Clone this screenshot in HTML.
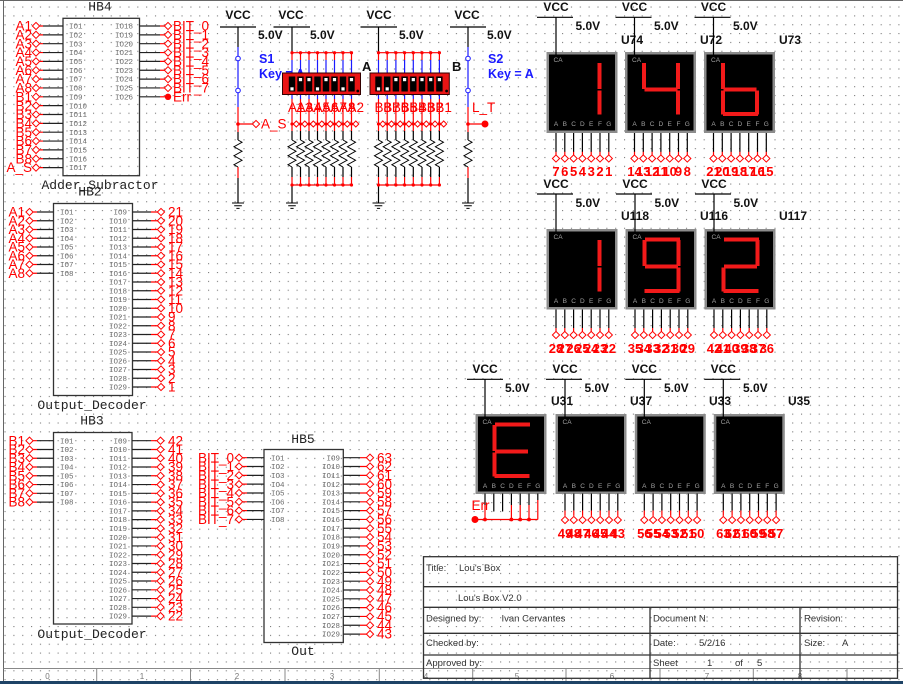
<!DOCTYPE html>
<html><head><meta charset="utf-8"><title>Lou's Box</title>
<style>
html,body{margin:0;padding:0;background:#fff;width:903px;height:684px;overflow:hidden}
svg{display:block}
text{font-family:"Liberation Sans",Arial,sans-serif}
.rl{font-size:13.5px;fill:#f00}
.io{font-family:"Liberation Mono",monospace;font-size:7.5px;fill:#6a6a6a}
.mn{font-family:"Liberation Mono",monospace;font-size:13px;fill:#222}
.bk{font-size:12px;font-weight:bold;fill:#111}
.bl{font-size:12.5px;font-weight:bold;fill:#1a1aff}
.tb{font-size:9.5px;fill:#333}
.sm{font-size:6.5px;fill:#a0a0a0}
.nm{font-size:13px;font-weight:bold;fill:#f00}
.bz{font-size:8px;fill:#777}
</style></head><body>
<svg width="903" height="684" viewBox="0 0 903 684" xmlns="http://www.w3.org/2000/svg">
<defs>
<pattern id="grid" patternUnits="userSpaceOnUse" x="4.5" y="6.5" width="8.85" height="8.85"><rect width="1.1" height="1.1" fill="#7a7a7a"/></pattern>
<path id="dm" d="M-3.6 0L0-3.6L3.6 0L0 3.6Z" fill="#fff" stroke="#f00" stroke-width="1"/>
<path id="dms" d="M-3 0L0-3L3 0L0 3Z" fill="#fff" stroke="#f00" stroke-width="1"/>
<path id="gnd" d="M-6 0H6M-3.8 2.7H3.8M-1.6 5.4H1.6" stroke="#000" stroke-width="1" fill="none"/>
<path id="res" d="M0 0l4 2.25l-8 4.5l8 4.5l-8 4.5l8 4.5l-8 4.5l4 2.25" fill="none" stroke="#000" stroke-width="1"/>
</defs>
<rect width="903" height="684" fill="#fff"/>
<rect width="903" height="681" fill="url(#grid)"/>

<!-- borders -->
<path d="M3.5 0V681M0 0.5H903" stroke="#666" stroke-width="1" fill="none"/>
<path d="M3.5 668.5H903M96.7 668.5V681M190.5 668.5V681M285 668.5V681M379.3 668.5V681M472.7 668.5V681M566 668.5V681M660 668.5V681M753.3 668.5V681M847 668.5V681" stroke="#888" stroke-width="1" fill="none"/>
<text class="bz" text-anchor="middle"><tspan x="47.5" y="679">0</tspan><tspan x="142" y="679">1</tspan><tspan x="237" y="679">2</tspan><tspan x="332" y="679">3</tspan><tspan x="426" y="679">4</tspan><tspan x="517" y="679">5</tspan><tspan x="612" y="679">6</tspan><tspan x="707" y="679">7</tspan><tspan x="800" y="679">8</tspan></text>
<rect x="0" y="681" width="903" height="3" fill="#1e4366"/>

<!-- ============ HB4 ============ -->
<rect x="63" y="18.3" width="76.5" height="157.4" fill="none" stroke="#333" stroke-width="1.3"/>
<line x1="53" y1="25.4" x2="53" y2="168.5" stroke="#222" stroke-width="20" stroke-dasharray="1.2 7.65"/>
<line x1="41.3" y1="25.4" x2="41.3" y2="168.5" stroke="#f00" stroke-width="3.4" stroke-dasharray="1.2 7.65"/>
<line x1="149.65" y1="25.4" x2="149.65" y2="97.5" stroke="#222" stroke-width="20.7" stroke-dasharray="1.2 7.65"/>
<line x1="162.2" y1="25.4" x2="162.2" y2="88.6" stroke="#f00" stroke-width="4.4" stroke-dasharray="1.2 7.65"/>
<path d="M160 96.8H168" stroke="#f00" stroke-width="1.2"/>
<circle cx="168" cy="96.8" r="3.2" fill="#f00"/>
<use href="#dm" x="36" y="26"/><use href="#dm" x="36" y="34.85"/><use href="#dm" x="36" y="43.7"/><use href="#dm" x="36" y="52.55"/><use href="#dm" x="36" y="61.4"/><use href="#dm" x="36" y="70.25"/><use href="#dm" x="36" y="79.1"/><use href="#dm" x="36" y="87.95"/><use href="#dm" x="36" y="96.8"/><use href="#dm" x="36" y="105.65"/><use href="#dm" x="36" y="114.5"/><use href="#dm" x="36" y="123.35"/><use href="#dm" x="36" y="132.2"/><use href="#dm" x="36" y="141.05"/><use href="#dm" x="36" y="149.9"/><use href="#dm" x="36" y="158.75"/><use href="#dm" x="36" y="167.6"/>
<use href="#dm" x="168" y="26"/><use href="#dm" x="168" y="34.85"/><use href="#dm" x="168" y="43.7"/><use href="#dm" x="168" y="52.55"/><use href="#dm" x="168" y="61.4"/><use href="#dm" x="168" y="70.25"/><use href="#dm" x="168" y="79.1"/><use href="#dm" x="168" y="87.95"/>
<text class="rl" text-anchor="end"><tspan x="32" y="30.6">A1</tspan><tspan x="32" y="39.5">A2</tspan><tspan x="32" y="48.3">A3</tspan><tspan x="32" y="57.2">A4</tspan><tspan x="32" y="66">A5</tspan><tspan x="32" y="74.9">A6</tspan><tspan x="32" y="83.7">A7</tspan><tspan x="32" y="92.6">A8</tspan><tspan x="32" y="101.4">B1</tspan><tspan x="32" y="110.3">B2</tspan><tspan x="32" y="119.1">B3</tspan><tspan x="32" y="128">B4</tspan><tspan x="32" y="136.8">B5</tspan><tspan x="32" y="145.7">B6</tspan><tspan x="32" y="154.5">B7</tspan><tspan x="32" y="163.4">B8</tspan><tspan x="32" y="172.2">A_S</tspan></text>
<text class="io"><tspan x="69" y="28.6">IO1</tspan><tspan x="69" y="37.5">IO2</tspan><tspan x="69" y="46.3">IO3</tspan><tspan x="69" y="55.2">IO4</tspan><tspan x="69" y="64">IO5</tspan><tspan x="69" y="72.9">IO6</tspan><tspan x="69" y="81.7">IO7</tspan><tspan x="69" y="90.6">IO8</tspan><tspan x="69" y="99.4">IO9</tspan><tspan x="69" y="108.3">IO10</tspan><tspan x="69" y="117.1">IO11</tspan><tspan x="69" y="126">IO12</tspan><tspan x="69" y="134.8">IO13</tspan><tspan x="69" y="143.7">IO14</tspan><tspan x="69" y="152.5">IO15</tspan><tspan x="69" y="161.4">IO16</tspan><tspan x="69" y="170.2">IO17</tspan></text>
<text class="io"><tspan x="115" y="28.6">IO18</tspan><tspan x="115" y="37.5">IO19</tspan><tspan x="115" y="46.3">IO20</tspan><tspan x="115" y="55.2">IO21</tspan><tspan x="115" y="64">IO22</tspan><tspan x="115" y="72.9">IO23</tspan><tspan x="115" y="81.7">IO24</tspan><tspan x="115" y="90.6">IO25</tspan><tspan x="115" y="99.4">IO26</tspan></text>
<text class="rl"><tspan x="173" y="30.6">BIT_0</tspan><tspan x="173" y="39.5">BIT_1</tspan><tspan x="173" y="48.3">BIT_2</tspan><tspan x="173" y="57.2">BIT_3</tspan><tspan x="173" y="66">BIT_4</tspan><tspan x="173" y="74.9">BIT_5</tspan><tspan x="173" y="83.7">BIT_6</tspan><tspan x="173" y="92.6">BIT_7</tspan><tspan x="173" y="101.4">Err</tspan></text>
<text class="mn" x="100" y="10.5" text-anchor="middle">HB4</text>
<text class="mn" x="100" y="189" text-anchor="middle">Adder_Subractor</text>

<!-- ============ HB2 ============ -->
<rect x="53.5" y="203.5" width="79" height="192" fill="none" stroke="#333" stroke-width="1.3"/>
<line x1="45.25" y1="211.4" x2="45.25" y2="274" stroke="#222" stroke-width="16.5" stroke-dasharray="1.2 7.55"/>
<line x1="35.05" y1="211.4" x2="35.05" y2="274" stroke="#f00" stroke-width="3.9" stroke-dasharray="1.2 7.55"/>
<line x1="141.75" y1="211.4" x2="141.75" y2="388" stroke="#222" stroke-width="18.5" stroke-dasharray="1.2 7.55"/>
<line x1="154.2" y1="211.4" x2="154.2" y2="388" stroke="#f00" stroke-width="6.4" stroke-dasharray="1.2 7.55"/>
<use href="#dm" x="29.5" y="212"/><use href="#dm" x="29.5" y="220.75"/><use href="#dm" x="29.5" y="229.5"/><use href="#dm" x="29.5" y="238.25"/><use href="#dm" x="29.5" y="247"/><use href="#dm" x="29.5" y="255.75"/><use href="#dm" x="29.5" y="264.5"/><use href="#dm" x="29.5" y="273.25"/>
<use href="#dm" x="161" y="212"/><use href="#dm" x="161" y="220.75"/><use href="#dm" x="161" y="229.5"/><use href="#dm" x="161" y="238.25"/><use href="#dm" x="161" y="247"/><use href="#dm" x="161" y="255.75"/><use href="#dm" x="161" y="264.5"/><use href="#dm" x="161" y="273.25"/><use href="#dm" x="161" y="282"/><use href="#dm" x="161" y="290.75"/><use href="#dm" x="161" y="299.5"/><use href="#dm" x="161" y="308.25"/><use href="#dm" x="161" y="317"/><use href="#dm" x="161" y="325.75"/><use href="#dm" x="161" y="334.5"/><use href="#dm" x="161" y="343.25"/><use href="#dm" x="161" y="352"/><use href="#dm" x="161" y="360.75"/><use href="#dm" x="161" y="369.5"/><use href="#dm" x="161" y="378.25"/><use href="#dm" x="161" y="387"/>
<text class="rl" text-anchor="end"><tspan x="25" y="216.6">A1</tspan><tspan x="25" y="225.4">A2</tspan><tspan x="25" y="234.1">A3</tspan><tspan x="25" y="242.9">A4</tspan><tspan x="25" y="251.6">A5</tspan><tspan x="25" y="260.4">A6</tspan><tspan x="25" y="269.1">A7</tspan><tspan x="25" y="277.9">A8</tspan></text>
<text class="io"><tspan x="60" y="214.6">IO1</tspan><tspan x="60" y="223.4">IO2</tspan><tspan x="60" y="232.1">IO3</tspan><tspan x="60" y="240.9">IO4</tspan><tspan x="60" y="249.6">IO5</tspan><tspan x="60" y="258.4">IO6</tspan><tspan x="60" y="267.1">IO7</tspan><tspan x="60" y="275.9">IO8</tspan></text>
<text class="io" text-anchor="end"><tspan x="127" y="214.6">IO9</tspan><tspan x="127" y="223.4">IO10</tspan><tspan x="127" y="232.1">IO11</tspan><tspan x="127" y="240.9">IO12</tspan><tspan x="127" y="249.6">IO13</tspan><tspan x="127" y="258.4">IO14</tspan><tspan x="127" y="267.1">IO15</tspan><tspan x="127" y="275.9">IO16</tspan><tspan x="127" y="284.6">IO17</tspan><tspan x="127" y="293.4">IO18</tspan><tspan x="127" y="302.1">IO19</tspan><tspan x="127" y="310.9">IO20</tspan><tspan x="127" y="319.6">IO21</tspan><tspan x="127" y="328.4">IO22</tspan><tspan x="127" y="337.1">IO23</tspan><tspan x="127" y="345.9">IO24</tspan><tspan x="127" y="354.6">IO25</tspan><tspan x="127" y="363.4">IO26</tspan><tspan x="127" y="372.1">IO27</tspan><tspan x="127" y="380.9">IO28</tspan><tspan x="127" y="389.6">IO29</tspan></text>
<text class="rl"><tspan x="168" y="216.6">21</tspan><tspan x="168" y="225.4">20</tspan><tspan x="168" y="234.1">19</tspan><tspan x="168" y="242.9">18</tspan><tspan x="168" y="251.6">17</tspan><tspan x="168" y="260.4">16</tspan><tspan x="168" y="269.1">15</tspan><tspan x="168" y="277.9">14</tspan><tspan x="168" y="286.6">13</tspan><tspan x="168" y="295.4">12</tspan><tspan x="168" y="304.1">11</tspan><tspan x="168" y="312.9">10</tspan><tspan x="168" y="321.6">9</tspan><tspan x="168" y="330.4">8</tspan><tspan x="168" y="339.1">7</tspan><tspan x="168" y="347.9">6</tspan><tspan x="168" y="356.6">5</tspan><tspan x="168" y="365.4">4</tspan><tspan x="168" y="374.1">3</tspan><tspan x="168" y="382.9">2</tspan><tspan x="168" y="391.6">1</tspan></text>
<text class="mn" x="90" y="195.5" text-anchor="middle">HB2</text>
<text class="mn" x="92" y="409" text-anchor="middle">Output_Decoder</text>

<!-- ============ HB3 ============ -->
<rect x="53.5" y="432.5" width="78.5" height="191.5" fill="none" stroke="#333" stroke-width="1.3"/>
<line x1="45.25" y1="440.1" x2="45.25" y2="503" stroke="#222" stroke-width="16.5" stroke-dasharray="1.2 7.57"/>
<line x1="35.05" y1="440.1" x2="35.05" y2="503" stroke="#f00" stroke-width="3.9" stroke-dasharray="1.2 7.57"/>
<line x1="141.5" y1="440.1" x2="141.5" y2="617" stroke="#222" stroke-width="19" stroke-dasharray="1.2 7.57"/>
<line x1="153.95" y1="440.1" x2="153.95" y2="617" stroke="#f00" stroke-width="5.9" stroke-dasharray="1.2 7.57"/>
<use href="#dm" x="29.5" y="440.7"/><use href="#dm" x="29.5" y="449.5"/><use href="#dm" x="29.5" y="458.2"/><use href="#dm" x="29.5" y="467"/><use href="#dm" x="29.5" y="475.8"/><use href="#dm" x="29.5" y="484.6"/><use href="#dm" x="29.5" y="493.3"/><use href="#dm" x="29.5" y="502.1"/>
<use href="#dm" x="160.5" y="440.7"/><use href="#dm" x="160.5" y="449.5"/><use href="#dm" x="160.5" y="458.2"/><use href="#dm" x="160.5" y="467"/><use href="#dm" x="160.5" y="475.8"/><use href="#dm" x="160.5" y="484.6"/><use href="#dm" x="160.5" y="493.3"/><use href="#dm" x="160.5" y="502.1"/><use href="#dm" x="160.5" y="510.9"/><use href="#dm" x="160.5" y="519.6"/><use href="#dm" x="160.5" y="528.4"/><use href="#dm" x="160.5" y="537.2"/><use href="#dm" x="160.5" y="545.9"/><use href="#dm" x="160.5" y="554.7"/><use href="#dm" x="160.5" y="563.5"/><use href="#dm" x="160.5" y="572.3"/><use href="#dm" x="160.5" y="581"/><use href="#dm" x="160.5" y="589.8"/><use href="#dm" x="160.5" y="598.6"/><use href="#dm" x="160.5" y="607.3"/><use href="#dm" x="160.5" y="616.1"/>
<text class="rl" text-anchor="end"><tspan x="25" y="445.3">B1</tspan><tspan x="25" y="454.1">B2</tspan><tspan x="25" y="462.8">B3</tspan><tspan x="25" y="471.6">B4</tspan><tspan x="25" y="480.4">B5</tspan><tspan x="25" y="489.2">B6</tspan><tspan x="25" y="497.9">B7</tspan><tspan x="25" y="506.7">B8</tspan></text>
<text class="io"><tspan x="60" y="443.3">IO1</tspan><tspan x="60" y="452.1">IO2</tspan><tspan x="60" y="460.8">IO3</tspan><tspan x="60" y="469.6">IO4</tspan><tspan x="60" y="478.4">IO5</tspan><tspan x="60" y="487.2">IO6</tspan><tspan x="60" y="495.9">IO7</tspan><tspan x="60" y="504.7">IO8</tspan></text>
<text class="io" text-anchor="end"><tspan x="127" y="443.3">IO9</tspan><tspan x="127" y="452.1">IO10</tspan><tspan x="127" y="460.8">IO11</tspan><tspan x="127" y="469.6">IO12</tspan><tspan x="127" y="478.4">IO13</tspan><tspan x="127" y="487.2">IO14</tspan><tspan x="127" y="495.9">IO15</tspan><tspan x="127" y="504.7">IO16</tspan><tspan x="127" y="513.5">IO17</tspan><tspan x="127" y="522.2">IO18</tspan><tspan x="127" y="531">IO19</tspan><tspan x="127" y="539.8">IO20</tspan><tspan x="127" y="548.5">IO21</tspan><tspan x="127" y="557.3">IO22</tspan><tspan x="127" y="566.1">IO23</tspan><tspan x="127" y="574.9">IO24</tspan><tspan x="127" y="583.6">IO25</tspan><tspan x="127" y="592.4">IO26</tspan><tspan x="127" y="601.2">IO27</tspan><tspan x="127" y="609.9">IO28</tspan><tspan x="127" y="618.7">IO29</tspan></text>
<text class="rl"><tspan x="168" y="445.3">42</tspan><tspan x="168" y="454.1">41</tspan><tspan x="168" y="462.8">40</tspan><tspan x="168" y="471.6">39</tspan><tspan x="168" y="480.4">38</tspan><tspan x="168" y="489.2">37</tspan><tspan x="168" y="497.9">36</tspan><tspan x="168" y="506.7">35</tspan><tspan x="168" y="515.5">34</tspan><tspan x="168" y="524.2">33</tspan><tspan x="168" y="533">32</tspan><tspan x="168" y="541.8">31</tspan><tspan x="168" y="550.5">30</tspan><tspan x="168" y="559.3">29</tspan><tspan x="168" y="568.1">28</tspan><tspan x="168" y="576.9">27</tspan><tspan x="168" y="585.6">26</tspan><tspan x="168" y="594.4">25</tspan><tspan x="168" y="603.2">24</tspan><tspan x="168" y="611.9">23</tspan><tspan x="168" y="620.7">22</tspan></text>
<text class="mn" x="92" y="424.5" text-anchor="middle">HB3</text>
<text class="mn" x="92" y="638" text-anchor="middle">Output_Decoder</text>

<!-- ============ HB5 ============ -->
<rect x="264" y="449.5" width="79.3" height="193" fill="none" stroke="#333" stroke-width="1.3"/>
<line x1="255.5" y1="457.1" x2="255.5" y2="520.3" stroke="#222" stroke-width="17" stroke-dasharray="1.2 7.62"/>
<line x1="244.8" y1="457.1" x2="244.8" y2="520.3" stroke="#f00" stroke-width="4.4" stroke-dasharray="1.2 7.62"/>
<line x1="351.65" y1="457.1" x2="351.65" y2="634.8" stroke="#222" stroke-width="16.7" stroke-dasharray="1.2 7.62"/>
<line x1="363.2" y1="457.1" x2="363.2" y2="634.8" stroke="#f00" stroke-width="6.4" stroke-dasharray="1.2 7.62"/>
<use href="#dm" x="239" y="457.7"/><use href="#dm" x="239" y="466.5"/><use href="#dm" x="239" y="475.3"/><use href="#dm" x="239" y="484.2"/><use href="#dm" x="239" y="493"/><use href="#dm" x="239" y="501.8"/><use href="#dm" x="239" y="510.6"/><use href="#dm" x="239" y="519.4"/>
<use href="#dm" x="370" y="457.7"/><use href="#dm" x="370" y="466.5"/><use href="#dm" x="370" y="475.3"/><use href="#dm" x="370" y="484.2"/><use href="#dm" x="370" y="493"/><use href="#dm" x="370" y="501.8"/><use href="#dm" x="370" y="510.6"/><use href="#dm" x="370" y="519.4"/><use href="#dm" x="370" y="528.3"/><use href="#dm" x="370" y="537.1"/><use href="#dm" x="370" y="545.9"/><use href="#dm" x="370" y="554.7"/><use href="#dm" x="370" y="563.5"/><use href="#dm" x="370" y="572.4"/><use href="#dm" x="370" y="581.2"/><use href="#dm" x="370" y="590"/><use href="#dm" x="370" y="598.8"/><use href="#dm" x="370" y="607.6"/><use href="#dm" x="370" y="616.5"/><use href="#dm" x="370" y="625.3"/><use href="#dm" x="370" y="634.1"/>
<text class="rl" text-anchor="end"><tspan x="234" y="462.3">BIT_0</tspan><tspan x="234" y="471.1">BIT_1</tspan><tspan x="234" y="479.9">BIT_2</tspan><tspan x="234" y="488.8">BIT_3</tspan><tspan x="234" y="497.6">BIT_4</tspan><tspan x="234" y="506.4">BIT_5</tspan><tspan x="234" y="515.2">BIT_6</tspan><tspan x="234" y="524">BIT_7</tspan></text>
<text class="io"><tspan x="271" y="460.3">IO1</tspan><tspan x="271" y="469.1">IO2</tspan><tspan x="271" y="477.9">IO3</tspan><tspan x="271" y="486.8">IO4</tspan><tspan x="271" y="495.6">IO5</tspan><tspan x="271" y="504.4">IO6</tspan><tspan x="271" y="513.2">IO7</tspan><tspan x="271" y="522">IO8</tspan></text>
<text class="io" text-anchor="end"><tspan x="340" y="460.3">IO9</tspan><tspan x="340" y="469.1">IO10</tspan><tspan x="340" y="477.9">IO11</tspan><tspan x="340" y="486.8">IO12</tspan><tspan x="340" y="495.6">IO13</tspan><tspan x="340" y="504.4">IO14</tspan><tspan x="340" y="513.2">IO15</tspan><tspan x="340" y="522">IO16</tspan><tspan x="340" y="530.9">IO17</tspan><tspan x="340" y="539.7">IO18</tspan><tspan x="340" y="548.5">IO19</tspan><tspan x="340" y="557.3">IO20</tspan><tspan x="340" y="566.1">IO21</tspan><tspan x="340" y="575">IO22</tspan><tspan x="340" y="583.8">IO23</tspan><tspan x="340" y="592.6">IO24</tspan><tspan x="340" y="601.4">IO25</tspan><tspan x="340" y="610.2">IO26</tspan><tspan x="340" y="619.1">IO27</tspan><tspan x="340" y="627.9">IO28</tspan><tspan x="340" y="636.7">IO29</tspan></text>
<text class="rl"><tspan x="377" y="462.3">63</tspan><tspan x="377" y="471.1">62</tspan><tspan x="377" y="479.9">61</tspan><tspan x="377" y="488.8">60</tspan><tspan x="377" y="497.6">59</tspan><tspan x="377" y="506.4">58</tspan><tspan x="377" y="515.2">57</tspan><tspan x="377" y="524">56</tspan><tspan x="377" y="532.9">55</tspan><tspan x="377" y="541.7">54</tspan><tspan x="377" y="550.5">53</tspan><tspan x="377" y="559.3">52</tspan><tspan x="377" y="568.1">51</tspan><tspan x="377" y="577">50</tspan><tspan x="377" y="585.8">49</tspan><tspan x="377" y="594.6">48</tspan><tspan x="377" y="603.4">47</tspan><tspan x="377" y="612.2">46</tspan><tspan x="377" y="621.1">45</tspan><tspan x="377" y="629.9">44</tspan><tspan x="377" y="638.7">43</tspan></text>
<text class="mn" x="303" y="443" text-anchor="middle">HB5</text>
<text class="mn" x="303" y="655" text-anchor="middle">Out</text>

<!-- ============ SWITCH AREA ============ -->
<text class="bk" text-anchor="middle"><tspan x="238" y="19">VCC</tspan><tspan x="291" y="19">VCC</tspan><tspan x="379" y="19">VCC</tspan><tspan x="467" y="19">VCC</tspan></text>
<path d="M220 27H256M273.5 27H310M360.5 27H397M450 27H486" stroke="#000" stroke-width="1.2"/>
<text class="bk"><tspan x="258" y="39">5.0V</tspan><tspan x="310" y="39">5.0V</tspan><tspan x="399" y="39">5.0V</tspan><tspan x="487" y="39">5.0V</tspan></text>

<!-- S1 -->
<path d="M238 27V47M238 132V140M238 178V203" stroke="#000" stroke-width="1.2"/>
<path d="M238 47V107" stroke="#1a1aff" stroke-width="1.2"/>
<path d="M238 107V132M238 167V178M238 124H252.4" stroke="#f00" stroke-width="1.2"/>
<circle cx="238" cy="58.5" r="2.3" fill="#fff" stroke="#1a1aff" stroke-width="1"/>
<circle cx="238" cy="90.5" r="2.3" fill="#fff" stroke="#1a1aff" stroke-width="1"/>
<circle cx="238" cy="124" r="1.8" fill="#f00"/>
<use href="#dm" x="256" y="124"/>
<use href="#res" x="238" y="140"/>
<use href="#gnd" x="238" y="203"/>
<text class="rl" x="261" y="128.6">A_S</text>
<text class="bl"><tspan x="259" y="63">S1</tspan><tspan x="259" y="78">Key = A</tspan></text>

<!-- S2 -->
<path d="M468 27V47M468 132V140M468 178V203" stroke="#000" stroke-width="1.2"/>
<path d="M468 47V107" stroke="#1a1aff" stroke-width="1.2"/>
<path d="M468 107V132M468 167V178M468 124H485" stroke="#f00" stroke-width="1.2"/>
<circle cx="468" cy="58.5" r="2.3" fill="#fff" stroke="#1a1aff" stroke-width="1"/>
<circle cx="468" cy="90.5" r="2.3" fill="#fff" stroke="#1a1aff" stroke-width="1"/>
<circle cx="468" cy="124" r="1.8" fill="#f00"/>
<circle cx="485" cy="124" r="3.5" fill="#f00"/>
<use href="#res" x="468" y="140"/>
<use href="#gnd" x="468" y="203"/>
<text class="rl" x="472" y="112">L_T</text>
<text class="bl"><tspan x="488" y="63">S2</tspan><tspan x="488" y="78">Key = A</tspan></text>

<!-- DIP A columns -->
<path d="M292 27V52.7M292 185V203" stroke="#000" stroke-width="1.2"/>
<path d="M292 52.7H351.5M292 185H351.5M292 124H356" stroke="#f00" stroke-width="1.2"/>
<line x1="291.4" y1="56.35" x2="352.1" y2="56.35" stroke="#f00" stroke-width="7.3" stroke-dasharray="1.2 7.3"/>
<line x1="291.4" y1="66.5" x2="352.1" y2="66.5" stroke="#1a1aff" stroke-width="13" stroke-dasharray="1.2 7.3"/>
<line x1="291.4" y1="96.75" x2="352.1" y2="96.75" stroke="#1a1aff" stroke-width="4.5" stroke-dasharray="1.2 7.3"/>
<line x1="291.4" y1="115" x2="352.1" y2="115" stroke="#f00" stroke-width="32" stroke-dasharray="1.2 7.3"/>
<line x1="291.4" y1="135.5" x2="352.1" y2="135.5" stroke="#000" stroke-width="9" stroke-dasharray="1.2 7.3"/>
<line x1="291.4" y1="172" x2="352.1" y2="172" stroke="#000" stroke-width="10" stroke-dasharray="1.2 7.3"/>
<line x1="291.4" y1="181" x2="352.1" y2="181" stroke="#f00" stroke-width="8" stroke-dasharray="1.2 7.3"/>
<line x1="292" y1="52.7" x2="352" y2="52.7" stroke="#f00" stroke-width="3.2" stroke-dasharray="0 8.5" stroke-linecap="round"/>
<line x1="292" y1="124" x2="352" y2="124" stroke="#f00" stroke-width="3.2" stroke-dasharray="0 8.5" stroke-linecap="round"/>
<line x1="292" y1="185" x2="352" y2="185" stroke="#f00" stroke-width="3.2" stroke-dasharray="0 8.5" stroke-linecap="round"/>
<use href="#res" x="292" y="140"/><use href="#res" x="300.5" y="140"/><use href="#res" x="309" y="140"/><use href="#res" x="317.5" y="140"/><use href="#res" x="326" y="140"/><use href="#res" x="334.5" y="140"/><use href="#res" x="343" y="140"/><use href="#res" x="351.5" y="140"/>
<use href="#dms" x="296.3" y="124"/><use href="#dms" x="304.8" y="124"/><use href="#dms" x="313.3" y="124"/><use href="#dms" x="321.8" y="124"/><use href="#dms" x="330.3" y="124"/><use href="#dms" x="338.8" y="124"/><use href="#dms" x="347.3" y="124"/><use href="#dms" x="355.8" y="124"/>
<use href="#gnd" x="292" y="203"/>
<rect x="282.5" y="73" width="78" height="21.5" fill="#ea1414" stroke="#300" stroke-width="1"/>
<line x1="288.8" y1="84" x2="354.7" y2="84" stroke="#000" stroke-width="15" stroke-dasharray="6.4 2.1"/>
<g fill="#fff"><rect x="290.4" y="87.3" width="3.2" height="3.2"/><rect x="298.9" y="78" width="3.2" height="3.2"/><rect x="307.4" y="78" width="3.2" height="3.2"/><rect x="315.9" y="87.3" width="3.2" height="3.2"/><rect x="324.4" y="78" width="3.2" height="3.2"/><rect x="332.9" y="78" width="3.2" height="3.2"/><rect x="341.4" y="87.3" width="3.2" height="3.2"/><rect x="349.9" y="78" width="3.2" height="3.2"/></g>
<circle cx="357.8" cy="91" r="1.4" fill="#000"/>
<text class="rl"><tspan x="288" y="112">A1</tspan><tspan x="296.5" y="112">A3</tspan><tspan x="305" y="112">A4</tspan><tspan x="313.5" y="112">A5</tspan><tspan x="322" y="112">A6</tspan><tspan x="330.5" y="112">A7</tspan><tspan x="339" y="112">A8</tspan><tspan x="347.5" y="112">A2</tspan></text>
<text class="bk" x="362" y="71" style="font-size:13px">A</text>

<!-- DIP B columns -->
<path d="M378.5 27V52.7M378.5 185V203" stroke="#000" stroke-width="1.2"/>
<path d="M378.5 52.7H439.4M378.5 185H439.4M378.5 124H444" stroke="#f00" stroke-width="1.2"/>
<line x1="377.9" y1="56.35" x2="440" y2="56.35" stroke="#f00" stroke-width="7.3" stroke-dasharray="1.2 7.5"/>
<line x1="377.9" y1="66.5" x2="440" y2="66.5" stroke="#1a1aff" stroke-width="13" stroke-dasharray="1.2 7.5"/>
<line x1="377.9" y1="96.75" x2="440" y2="96.75" stroke="#1a1aff" stroke-width="4.5" stroke-dasharray="1.2 7.5"/>
<line x1="377.9" y1="115" x2="440" y2="115" stroke="#f00" stroke-width="32" stroke-dasharray="1.2 7.5"/>
<line x1="377.9" y1="135.5" x2="440" y2="135.5" stroke="#000" stroke-width="9" stroke-dasharray="1.2 7.5"/>
<line x1="377.9" y1="172" x2="440" y2="172" stroke="#000" stroke-width="10" stroke-dasharray="1.2 7.5"/>
<line x1="377.9" y1="181" x2="440" y2="181" stroke="#f00" stroke-width="8" stroke-dasharray="1.2 7.5"/>
<line x1="378.5" y1="52.7" x2="440" y2="52.7" stroke="#f00" stroke-width="3.2" stroke-dasharray="0 8.7" stroke-linecap="round"/>
<line x1="378.5" y1="124" x2="440" y2="124" stroke="#f00" stroke-width="3.2" stroke-dasharray="0 8.7" stroke-linecap="round"/>
<line x1="378.5" y1="185" x2="440" y2="185" stroke="#f00" stroke-width="3.2" stroke-dasharray="0 8.7" stroke-linecap="round"/>
<use href="#res" x="378.5" y="140"/><use href="#res" x="387.2" y="140"/><use href="#res" x="395.9" y="140"/><use href="#res" x="404.6" y="140"/><use href="#res" x="413.3" y="140"/><use href="#res" x="422" y="140"/><use href="#res" x="430.7" y="140"/><use href="#res" x="439.4" y="140"/>
<use href="#dms" x="382.8" y="124"/><use href="#dms" x="391.5" y="124"/><use href="#dms" x="400.2" y="124"/><use href="#dms" x="408.9" y="124"/><use href="#dms" x="417.6" y="124"/><use href="#dms" x="426.3" y="124"/><use href="#dms" x="435" y="124"/><use href="#dms" x="443.7" y="124"/>
<use href="#gnd" x="378.5" y="203"/>
<rect x="370" y="73" width="79.3" height="21.5" fill="#ea1414" stroke="#300" stroke-width="1"/>
<line x1="375.3" y1="84" x2="442.6" y2="84" stroke="#000" stroke-width="15" stroke-dasharray="6.4 2.3"/>
<g fill="#fff"><rect x="376.9" y="87.3" width="3.2" height="3.2"/><rect x="385.6" y="87.3" width="3.2" height="3.2"/><rect x="394.3" y="78" width="3.2" height="3.2"/><rect x="403" y="78" width="3.2" height="3.2"/><rect x="411.7" y="78" width="3.2" height="3.2"/><rect x="420.4" y="78" width="3.2" height="3.2"/><rect x="429.1" y="78" width="3.2" height="3.2"/><rect x="437.8" y="78" width="3.2" height="3.2"/></g>
<circle cx="446.6" cy="91" r="1.4" fill="#000"/>
<text class="rl"><tspan x="374.5" y="112">B8</tspan><tspan x="383.2" y="112">B7</tspan><tspan x="391.9" y="112">B6</tspan><tspan x="400.6" y="112">B5</tspan><tspan x="409.3" y="112">B4</tspan><tspan x="418" y="112">B3</tspan><tspan x="426.7" y="112">B2</tspan><tspan x="435.4" y="112">B1</tspan></text>
<text class="bk" x="452" y="71" style="font-size:13px">B</text>

<!-- ============ DISPLAYS ROW 1 ============ -->
<text class="bk" text-anchor="middle"><tspan x="556" y="11">VCC</tspan><tspan x="634.5" y="11">VCC</tspan><tspan x="713.5" y="11">VCC</tspan></text>
<path d="M537 17.3H573M615.5 17.3H651.5M694.5 17.3H730.5" stroke="#000" stroke-width="1.2"/>
<text class="bk"><tspan x="575.5" y="30">5.0V</tspan><tspan x="654" y="30">5.0V</tspan><tspan x="733" y="30">5.0V</tspan><tspan x="621" y="44">U74</tspan><tspan x="700" y="44">U72</tspan><tspan x="779" y="44">U73</tspan></text>
<g stroke="#8c8c8c" stroke-width="2.5" fill="#000"><rect x="547.75" y="53.25" width="68.5" height="78.5"/><rect x="626.25" y="53.25" width="68.5" height="78.5"/><rect x="705.25" y="53.25" width="68.5" height="78.5"/></g>
<path d="M556 17.3V58M634.5 17.3V58M713.5 17.3V58" stroke="#000" stroke-width="1.2"/>
<g fill="#f21a1a">
<g transform="translate(546.5,52)"><rect x="51" y="11" width="4" height="26"/><rect x="51" y="38.5" width="4" height="24"/></g>
<g transform="translate(625,52)"><rect x="17" y="11" width="4" height="26"/><rect x="19.5" y="35.5" width="33" height="4"/><rect x="51" y="11" width="4" height="26"/><rect x="51" y="38.5" width="4" height="24"/></g>
<g transform="translate(704,52)"><rect x="17" y="11" width="4" height="26"/><rect x="17" y="38.5" width="4" height="24"/><rect x="19.5" y="35.5" width="33" height="4"/><rect x="51" y="38.5" width="4" height="24"/><rect x="19" y="60" width="35" height="4"/></g>
</g>
<text class="sm"><tspan x="553.5" y="62">CA</tspan><tspan x="632" y="62">CA</tspan><tspan x="711" y="62">CA</tspan></text>
<text class="sm" text-anchor="middle"><tspan x="556" y="126">A</tspan><tspan x="564.8" y="126">B</tspan><tspan x="573.6" y="126">C</tspan><tspan x="582.4" y="126">D</tspan><tspan x="591.2" y="126">E</tspan><tspan x="600" y="126">F</tspan><tspan x="608.8" y="126">G</tspan><tspan x="634.5" y="126">A</tspan><tspan x="643.3" y="126">B</tspan><tspan x="652.1" y="126">C</tspan><tspan x="660.9" y="126">D</tspan><tspan x="669.7" y="126">E</tspan><tspan x="678.5" y="126">F</tspan><tspan x="687.3" y="126">G</tspan><tspan x="713.5" y="126">A</tspan><tspan x="722.3" y="126">B</tspan><tspan x="731.1" y="126">C</tspan><tspan x="739.9" y="126">D</tspan><tspan x="748.7" y="126">E</tspan><tspan x="757.5" y="126">F</tspan><tspan x="766.3" y="126">G</tspan></text>
<g stroke-dasharray="1.2 7.6">
<line x1="555.4" y1="142.5" x2="609.4" y2="142.5" stroke="#000" stroke-width="19"/>
<line x1="633.9" y1="142.5" x2="687.9" y2="142.5" stroke="#000" stroke-width="19"/>
<line x1="712.9" y1="142.5" x2="766.9" y2="142.5" stroke="#000" stroke-width="19"/>
<line x1="555.4" y1="153.5" x2="609.4" y2="153.5" stroke="#f00" stroke-width="3.4"/>
<line x1="633.9" y1="153.5" x2="687.9" y2="153.5" stroke="#f00" stroke-width="3.4"/>
<line x1="712.9" y1="153.5" x2="766.9" y2="153.5" stroke="#f00" stroke-width="3.4"/>
</g>
<use href="#dm" x="556" y="158.5"/><use href="#dm" x="564.8" y="158.5"/><use href="#dm" x="573.6" y="158.5"/><use href="#dm" x="582.4" y="158.5"/><use href="#dm" x="591.2" y="158.5"/><use href="#dm" x="600" y="158.5"/><use href="#dm" x="608.8" y="158.5"/>
<use href="#dm" x="634.5" y="158.5"/><use href="#dm" x="643.3" y="158.5"/><use href="#dm" x="652.1" y="158.5"/><use href="#dm" x="660.9" y="158.5"/><use href="#dm" x="669.7" y="158.5"/><use href="#dm" x="678.5" y="158.5"/><use href="#dm" x="687.3" y="158.5"/>
<use href="#dm" x="713.5" y="158.5"/><use href="#dm" x="722.3" y="158.5"/><use href="#dm" x="731.1" y="158.5"/><use href="#dm" x="739.9" y="158.5"/><use href="#dm" x="748.7" y="158.5"/><use href="#dm" x="757.5" y="158.5"/><use href="#dm" x="766.3" y="158.5"/>
<text class="nm" text-anchor="middle"><tspan x="556" y="176">7</tspan><tspan x="564.8" y="176">6</tspan><tspan x="573.6" y="176">5</tspan><tspan x="582.4" y="176">4</tspan><tspan x="591.2" y="176">3</tspan><tspan x="600" y="176">2</tspan><tspan x="608.8" y="176">1</tspan><tspan x="634.5" y="176">14</tspan><tspan x="643.3" y="176">13</tspan><tspan x="652.1" y="176">12</tspan><tspan x="660.9" y="176">11</tspan><tspan x="669.7" y="176">10</tspan><tspan x="678.5" y="176">9</tspan><tspan x="687.3" y="176">8</tspan><tspan x="713.5" y="176">21</tspan><tspan x="722.3" y="176">20</tspan><tspan x="731.1" y="176">19</tspan><tspan x="739.9" y="176">18</tspan><tspan x="748.7" y="176">17</tspan><tspan x="757.5" y="176">16</tspan><tspan x="766.3" y="176">15</tspan></text>

<!-- ============ DISPLAYS ROW 2 ============ -->
<text class="bk" text-anchor="middle"><tspan x="556" y="188">VCC</tspan><tspan x="635" y="188">VCC</tspan><tspan x="714" y="188">VCC</tspan></text>
<path d="M537 194H573M616 194H652M695 194H731" stroke="#000" stroke-width="1.2"/>
<text class="bk"><tspan x="575.5" y="207">5.0V</tspan><tspan x="654.5" y="207">5.0V</tspan><tspan x="733.5" y="207">5.0V</tspan><tspan x="621" y="220">U118</tspan><tspan x="700" y="220">U116</tspan><tspan x="779" y="220">U117</tspan></text>
<g stroke="#8c8c8c" stroke-width="2.5" fill="#000"><rect x="547.75" y="230.25" width="68.5" height="78"/><rect x="626.75" y="230.25" width="68.5" height="78"/><rect x="705.75" y="230.25" width="68.5" height="78"/></g>
<path d="M556 194V235M635 194V235M714 194V235" stroke="#000" stroke-width="1.2"/>
<g fill="#f21a1a">
<g transform="translate(546.5,229)"><rect x="51" y="11" width="4" height="26"/><rect x="51" y="38.5" width="4" height="24"/></g>
<g transform="translate(625.5,229)"><rect x="19.5" y="8.5" width="35" height="4"/><rect x="17" y="11" width="4" height="26"/><rect x="51" y="11" width="4" height="26"/><rect x="19.5" y="35.5" width="33" height="4"/><rect x="51" y="38.5" width="4" height="24"/><rect x="19" y="60" width="35" height="4"/></g>
<g transform="translate(704.5,229)"><rect x="19.5" y="8.5" width="35" height="4"/><rect x="51" y="11" width="4" height="26"/><rect x="19.5" y="35.5" width="33" height="4"/><rect x="17" y="38.5" width="4" height="24"/><rect x="19" y="60" width="35" height="4"/></g>
</g>
<text class="sm"><tspan x="553.5" y="239">CA</tspan><tspan x="632.5" y="239">CA</tspan><tspan x="711.5" y="239">CA</tspan></text>
<text class="sm" text-anchor="middle"><tspan x="556" y="303">A</tspan><tspan x="564.8" y="303">B</tspan><tspan x="573.6" y="303">C</tspan><tspan x="582.4" y="303">D</tspan><tspan x="591.2" y="303">E</tspan><tspan x="600" y="303">F</tspan><tspan x="608.8" y="303">G</tspan><tspan x="635" y="303">A</tspan><tspan x="643.8" y="303">B</tspan><tspan x="652.6" y="303">C</tspan><tspan x="661.4" y="303">D</tspan><tspan x="670.2" y="303">E</tspan><tspan x="679" y="303">F</tspan><tspan x="687.8" y="303">G</tspan><tspan x="714" y="303">A</tspan><tspan x="722.8" y="303">B</tspan><tspan x="731.6" y="303">C</tspan><tspan x="740.4" y="303">D</tspan><tspan x="749.2" y="303">E</tspan><tspan x="758" y="303">F</tspan><tspan x="766.8" y="303">G</tspan></text>
<g stroke-dasharray="1.2 7.6">
<line x1="555.4" y1="318.75" x2="609.4" y2="318.75" stroke="#000" stroke-width="18.5"/>
<line x1="634.4" y1="318.75" x2="688.4" y2="318.75" stroke="#000" stroke-width="18.5"/>
<line x1="713.4" y1="318.75" x2="767.4" y2="318.75" stroke="#000" stroke-width="18.5"/>
<line x1="555.4" y1="329.8" x2="609.4" y2="329.8" stroke="#f00" stroke-width="3.6"/>
<line x1="634.4" y1="329.8" x2="688.4" y2="329.8" stroke="#f00" stroke-width="3.6"/>
<line x1="713.4" y1="329.8" x2="767.4" y2="329.8" stroke="#f00" stroke-width="3.6"/>
</g>
<use href="#dm" x="556" y="335"/><use href="#dm" x="564.8" y="335"/><use href="#dm" x="573.6" y="335"/><use href="#dm" x="582.4" y="335"/><use href="#dm" x="591.2" y="335"/><use href="#dm" x="600" y="335"/><use href="#dm" x="608.8" y="335"/>
<use href="#dm" x="635" y="335"/><use href="#dm" x="643.8" y="335"/><use href="#dm" x="652.6" y="335"/><use href="#dm" x="661.4" y="335"/><use href="#dm" x="670.2" y="335"/><use href="#dm" x="679" y="335"/><use href="#dm" x="687.8" y="335"/>
<use href="#dm" x="714" y="335"/><use href="#dm" x="722.8" y="335"/><use href="#dm" x="731.6" y="335"/><use href="#dm" x="740.4" y="335"/><use href="#dm" x="749.2" y="335"/><use href="#dm" x="758" y="335"/><use href="#dm" x="766.8" y="335"/>
<text class="nm" text-anchor="middle"><tspan x="556" y="353">28</tspan><tspan x="564.8" y="353">27</tspan><tspan x="573.6" y="353">26</tspan><tspan x="582.4" y="353">25</tspan><tspan x="591.2" y="353">24</tspan><tspan x="600" y="353">23</tspan><tspan x="608.8" y="353">22</tspan><tspan x="635" y="353">35</tspan><tspan x="643.8" y="353">34</tspan><tspan x="652.6" y="353">33</tspan><tspan x="661.4" y="353">32</tspan><tspan x="670.2" y="353">31</tspan><tspan x="679" y="353">30</tspan><tspan x="687.8" y="353">29</tspan><tspan x="714" y="353">42</tspan><tspan x="722.8" y="353">41</tspan><tspan x="731.6" y="353">40</tspan><tspan x="740.4" y="353">39</tspan><tspan x="749.2" y="353">38</tspan><tspan x="758" y="353">37</tspan><tspan x="766.8" y="353">36</tspan></text>

<!-- ============ DISPLAYS ROW 3 ============ -->
<text class="bk" text-anchor="middle"><tspan x="485" y="373">VCC</tspan><tspan x="565" y="373">VCC</tspan><tspan x="644.3" y="373">VCC</tspan><tspan x="723.3" y="373">VCC</tspan></text>
<path d="M467 379.3H503M546 379.3H582M625.3 379.3H661.3M704.3 379.3H740.3" stroke="#000" stroke-width="1.2"/>
<text class="bk"><tspan x="505" y="392">5.0V</tspan><tspan x="584.5" y="392">5.0V</tspan><tspan x="664" y="392">5.0V</tspan><tspan x="743" y="392">5.0V</tspan><tspan x="551" y="405">U31</tspan><tspan x="630" y="405">U37</tspan><tspan x="709" y="405">U33</tspan><tspan x="788" y="405">U35</tspan></text>
<g stroke="#8c8c8c" stroke-width="2.5" fill="#000"><rect x="476.75" y="415.25" width="68.5" height="77.5"/><rect x="556.75" y="415.25" width="68.5" height="77.5"/><rect x="636.05" y="415.25" width="68.5" height="77.5"/><rect x="715.05" y="415.25" width="68.5" height="77.5"/></g>
<path d="M485 379.3V420M565 379.3V420M644.3 379.3V420M723.3 379.3V420" stroke="#000" stroke-width="1.2"/>
<g fill="#f21a1a" transform="translate(475.5,414)"><rect x="19.5" y="8.5" width="35" height="4"/><rect x="17" y="11" width="4" height="26"/><rect x="19.5" y="35.5" width="33" height="4"/><rect x="17" y="38.5" width="4" height="24"/><rect x="19" y="60" width="35" height="4"/></g>
<text class="sm"><tspan x="482.5" y="424">CA</tspan><tspan x="562.5" y="424">CA</tspan><tspan x="641.8" y="424">CA</tspan><tspan x="720.8" y="424">CA</tspan></text>
<text class="sm" text-anchor="middle"><tspan x="485" y="488">A</tspan><tspan x="493.8" y="488">B</tspan><tspan x="502.6" y="488">C</tspan><tspan x="511.4" y="488">D</tspan><tspan x="520.2" y="488">E</tspan><tspan x="529" y="488">F</tspan><tspan x="537.8" y="488">G</tspan><tspan x="565" y="488">A</tspan><tspan x="573.8" y="488">B</tspan><tspan x="582.6" y="488">C</tspan><tspan x="591.4" y="488">D</tspan><tspan x="600.2" y="488">E</tspan><tspan x="609" y="488">F</tspan><tspan x="617.8" y="488">G</tspan><tspan x="644.3" y="488">A</tspan><tspan x="653.1" y="488">B</tspan><tspan x="661.9" y="488">C</tspan><tspan x="670.7" y="488">D</tspan><tspan x="679.5" y="488">E</tspan><tspan x="688.3" y="488">F</tspan><tspan x="697.1" y="488">G</tspan><tspan x="723.3" y="488">A</tspan><tspan x="732.1" y="488">B</tspan><tspan x="740.9" y="488">C</tspan><tspan x="749.7" y="488">D</tspan><tspan x="758.5" y="488">E</tspan><tspan x="767.3" y="488">F</tspan><tspan x="776.1" y="488">G</tspan></text>
<!-- Err display pins -->
<path d="M485 493.5V505M493.8 493.5V511.5M502.6 493.5V511.5M511.4 493.5V505M520.2 493.5V505M529 493.5V505M537.8 493.5V500" stroke="#000" stroke-width="1.2"/>
<path d="M485 505V519.5M511.4 505V519.5M520.2 505V519.5M529 505V519.5M537.8 500V519.5M475 519.5H537.8" stroke="#f00" stroke-width="1.2"/>
<circle cx="475" cy="519.5" r="3.5" fill="#f00"/>
<g fill="#f00"><circle cx="485" cy="519.5" r="1.9"/><circle cx="511.4" cy="519.5" r="1.9"/><circle cx="520.2" cy="519.5" r="1.9"/><circle cx="529" cy="519.5" r="1.9"/></g>
<text class="rl" x="471.5" y="510">Err</text>
<g stroke-dasharray="1.2 7.6">
<line x1="564.4" y1="502" x2="618.4" y2="502" stroke="#000" stroke-width="17"/>
<line x1="643.7" y1="502" x2="697.7" y2="502" stroke="#000" stroke-width="17"/>
<line x1="722.7" y1="502" x2="776.7" y2="502" stroke="#000" stroke-width="17"/>
<line x1="564.4" y1="513.2" x2="618.4" y2="513.2" stroke="#f00" stroke-width="5.4"/>
<line x1="643.7" y1="513.2" x2="697.7" y2="513.2" stroke="#f00" stroke-width="5.4"/>
<line x1="722.7" y1="513.2" x2="776.7" y2="513.2" stroke="#f00" stroke-width="5.4"/>
</g>
<use href="#dm" x="565" y="520"/><use href="#dm" x="573.8" y="520"/><use href="#dm" x="582.6" y="520"/><use href="#dm" x="591.4" y="520"/><use href="#dm" x="600.2" y="520"/><use href="#dm" x="609" y="520"/><use href="#dm" x="617.8" y="520"/>
<use href="#dm" x="644.3" y="520"/><use href="#dm" x="653.1" y="520"/><use href="#dm" x="661.9" y="520"/><use href="#dm" x="670.7" y="520"/><use href="#dm" x="679.5" y="520"/><use href="#dm" x="688.3" y="520"/><use href="#dm" x="697.1" y="520"/>
<use href="#dm" x="723.3" y="520"/><use href="#dm" x="732.1" y="520"/><use href="#dm" x="740.9" y="520"/><use href="#dm" x="749.7" y="520"/><use href="#dm" x="758.5" y="520"/><use href="#dm" x="767.3" y="520"/><use href="#dm" x="776.1" y="520"/>
<text class="nm" text-anchor="middle"><tspan x="565" y="538">49</tspan><tspan x="573.8" y="538">48</tspan><tspan x="582.6" y="538">47</tspan><tspan x="591.4" y="538">46</tspan><tspan x="600.2" y="538">45</tspan><tspan x="609" y="538">44</tspan><tspan x="617.8" y="538">43</tspan><tspan x="644.3" y="538">56</tspan><tspan x="653.1" y="538">55</tspan><tspan x="661.9" y="538">54</tspan><tspan x="670.7" y="538">53</tspan><tspan x="679.5" y="538">52</tspan><tspan x="688.3" y="538">51</tspan><tspan x="697.1" y="538">50</tspan><tspan x="723.3" y="538">63</tspan><tspan x="732.1" y="538">62</tspan><tspan x="740.9" y="538">61</tspan><tspan x="749.7" y="538">60</tspan><tspan x="758.5" y="538">59</tspan><tspan x="767.3" y="538">58</tspan><tspan x="776.1" y="538">57</tspan></text>

<!-- ============ TITLE BLOCK ============ -->
<rect x="423.5" y="556.7" width="474" height="121.6" fill="none" stroke="#333" stroke-width="1.3"/>
<path d="M423.5 586.7H897.5M423.5 607.3H897.5M423.5 633.3H897.5M423.5 655H897.5M650 607.3V678.3M800 607.3V678.3" stroke="#333" stroke-width="1.3" fill="none"/>
<text class="tb"><tspan x="426" y="571">Title:</tspan><tspan x="459" y="571">Lou's Box</tspan><tspan x="458" y="601">Lou's Box V2.0</tspan><tspan x="426" y="621.5">Designed by:</tspan><tspan x="501.5" y="621.5">Ivan Cervantes</tspan><tspan x="653" y="621.5">Document N:</tspan><tspan x="804" y="621.5">Revision:</tspan><tspan x="426" y="646">Checked by:</tspan><tspan x="653" y="646">Date:</tspan><tspan x="699" y="646">5/2/16</tspan><tspan x="804" y="646">Size:</tspan><tspan x="842" y="646">A</tspan><tspan x="426" y="666">Approved by:</tspan><tspan x="653" y="666">Sheet</tspan><tspan x="707" y="666">1</tspan><tspan x="735" y="666">of</tspan><tspan x="757" y="666">5</tspan></text>
</svg>
</body></html>
